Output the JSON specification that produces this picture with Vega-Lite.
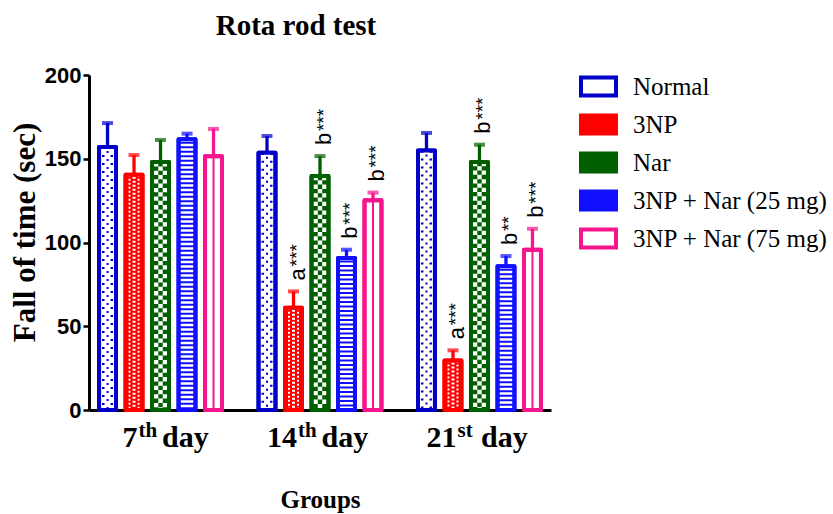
{
"$schema":"https://vega.github.io/schema/vega-lite/v6.json",
"width":462,"height":335,
"autosize":{"type":"none"},
"padding":{"left":89,"top":75,"right":282,"bottom":104},
"background":"white",
"title":{"text":"Rota rod test","font":"Liberation Serif","fontSize":29,"fontWeight":"bold","color":"black","anchor":"middle","dx":-24,"offset":23},
"config":{"view":{"stroke":null},
 "legend":{"orient":"none","legendX":490,"legendY":-8,"symbolType":"M-1,-0.514H1V0.514H-1Z","symbolSize":1225,"symbolStrokeWidth":4,"labelFont":"Liberation Serif","labelFontSize":25,"labelColor":"black","labelOffset":15,"rowPadding":1,"padding":0,"labelLimit":400}},
"datasets":{
 "bars":[
  {"day":"7th day","group":"Normal","value":157,"err":171.3,"letter":"","stars":""},
  {"day":"7th day","group":"3NP","value":140.5,"err":152.2,"letter":"","stars":""},
  {"day":"7th day","group":"Nar","value":148,"err":161.2,"letter":"","stars":""},
  {"day":"7th day","group":"3NP + Nar (25 mg)","value":161.6,"err":165,"letter":"","stars":""},
  {"day":"7th day","group":"3NP + Nar (75 mg)","value":151.5,"err":167.8,"letter":"","stars":""},
  {"day":"14th day","group":"Normal","value":153.6,"err":163.6,"letter":"","stars":""},
  {"day":"14th day","group":"3NP","value":61,"err":70.8,"letter":"a","stars":"***"},
  {"day":"14th day","group":"Nar","value":139.7,"err":151.6,"letter":"b","stars":"***"},
  {"day":"14th day","group":"3NP + Nar (25 mg)","value":90.7,"err":95.7,"letter":"b","stars":"***"},
  {"day":"14th day","group":"3NP + Nar (75 mg)","value":125.2,"err":129.8,"letter":"b","stars":"***"},
  {"day":"21st day","group":"Normal","value":155,"err":165.4,"letter":"","stars":""},
  {"day":"21st day","group":"3NP","value":29.6,"err":35.6,"letter":"a","stars":"***"},
  {"day":"21st day","group":"Nar","value":148.1,"err":158.4,"letter":"b","stars":"***"},
  {"day":"21st day","group":"3NP + Nar (25 mg)","value":85.8,"err":91.9,"letter":"b","stars":"**"},
  {"day":"21st day","group":"3NP + Nar (75 mg)","value":95.7,"err":108.2,"letter":"b","stars":"***"}
 ],
 "days":[
  {"day":"7th day","num":"7","sup":"th"},
  {"day":"14th day","num":"14","sup":"th"},
  {"day":"21st day","num":"21","sup":"st"}
 ]
},
"layer":[
 {"data":{"name":"bars"},"mark":{"type":"bar","strokeWidth":4,"strokeJoin":"round"},
  "encoding":{
   "x":{"field":"day","type":"nominal","scale":{"domain":["7th day","14th day","21st day"],"paddingInner":0.229,"paddingOuter":0.063},
        "axis":{"title":"Groups","labels":false,"ticks":false,"domainWidth":3,"domainColor":"black","titleFont":"Liberation Serif","titleFontSize":25,"titleFontWeight":"bold","titleColor":"black","titleY":97,"titleBaseline":"alphabetic"}},
   "xOffset":{"field":"group","type":"nominal","scale":{"domain":["Normal","3NP","Nar","3NP + Nar (25 mg)","3NP + Nar (75 mg)"],"paddingInner":0.36,"paddingOuter":0}},
   "y":{"field":"value","type":"quantitative","scale":{"domain":[0,200],"nice":false},
        "axis":{"title":"Fall of time (sec)","values":[0,50,100,150,200],"grid":false,"domainWidth":3,"domainColor":"black","tickColor":"black","tickWidth":2.5,"tickSize":6,"labelFont":"Liberation Sans","labelFontSize":22,"labelFontWeight":"bold","labelColor":"black","labelPadding":2,"titleFont":"Liberation Serif","titleFontSize":31,"titleFontWeight":"bold","titleColor":"black","titleAngle":270,"titleX":-55,"titleY":157,"titleAlign":"center","titleBaseline":"alphabetic"}},
   "fill":{"field":"group","type":"nominal","scale":{"domain":["Normal","3NP","Nar","3NP + Nar (25 mg)","3NP + Nar (75 mg)"],"range":["#ffffff","#ff0000","#006000","#1010ff","#ffffff"]},"legend":{"title":null}},
   "stroke":{"field":"group","type":"nominal","scale":{"domain":["Normal","3NP","Nar","3NP + Nar (25 mg)","3NP + Nar (75 mg)"],"range":["#0000c8","#ff0000","#006000","#1010ff","#f5158c"]},"legend":{"title":null}}
  }},
 {"data":{"name":"bars"},"transform":[{"filter":"datum.group === 'Normal'"}],"mark":{"type":"rule","stroke":"#0000c8","strokeWidth":11,"strokeDash":[2,6]},
  "encoding":{"x":{"field":"day","type":"nominal"},"xOffset":{"field":"group","type":"nominal"},"y":{"field":"value","type":"quantitative"},"y2":{"datum":0}}},
 {"data":{"name":"bars"},"transform":[{"filter":"datum.group === 'Normal'"}],"mark":{"type":"rule","stroke":"#ffffff","strokeWidth":6},
  "encoding":{"x":{"field":"day","type":"nominal"},"xOffset":{"field":"group","type":"nominal"},"y":{"field":"value","type":"quantitative"},"y2":{"datum":0}}},
 {"data":{"name":"bars"},"transform":[{"filter":"datum.group === 'Normal'"}],"mark":{"type":"rule","stroke":"#0000c8","strokeWidth":2,"strokeDash":[2,6],"strokeDashOffset":4},
  "encoding":{"x":{"field":"day","type":"nominal"},"xOffset":{"field":"group","type":"nominal"},"y":{"field":"value","type":"quantitative"},"y2":{"datum":0}}},
 {"data":{"name":"bars"},"transform":[{"filter":"datum.group === '3NP'"}],"mark":{"type":"rule","stroke":"#ffffff","strokeWidth":11,"strokeDash":[2,2]},
  "encoding":{"x":{"field":"day","type":"nominal"},"xOffset":{"field":"group","type":"nominal"},"y":{"field":"value","type":"quantitative"},"y2":{"datum":0}}},
 {"data":{"name":"bars"},"transform":[{"filter":"datum.group === '3NP'"}],"mark":{"type":"rule","stroke":"#ff0000","strokeWidth":7},
  "encoding":{"x":{"field":"day","type":"nominal"},"xOffset":{"field":"group","type":"nominal"},"y":{"field":"value","type":"quantitative"},"y2":{"datum":0}}},
 {"data":{"name":"bars"},"transform":[{"filter":"datum.group === '3NP'"}],"mark":{"type":"rule","stroke":"#ffffff","strokeWidth":3,"strokeDash":[2,2],"strokeDashOffset":2},
  "encoding":{"x":{"field":"day","type":"nominal"},"xOffset":{"field":"group","type":"nominal"},"y":{"field":"value","type":"quantitative"},"y2":{"datum":0}}},
 {"data":{"name":"bars"},"transform":[{"filter":"datum.group === 'Nar'"}],"mark":{"type":"rule","stroke":"#ffffff","strokeWidth":13,"strokeDash":[4.3,4.3]},
  "encoding":{"x":{"field":"day","type":"nominal"},"xOffset":{"field":"group","type":"nominal"},"y":{"field":"value","type":"quantitative"},"y2":{"datum":0}}},
 {"data":{"name":"bars"},"transform":[{"filter":"datum.group === 'Nar'"}],"mark":{"type":"rule","stroke":"#ffffff","strokeWidth":4.4},
  "encoding":{"x":{"field":"day","type":"nominal"},"xOffset":{"field":"group","type":"nominal"},"y":{"field":"value","type":"quantitative"},"y2":{"datum":0}}},
 {"data":{"name":"bars"},"transform":[{"filter":"datum.group === 'Nar'"}],"mark":{"type":"rule","stroke":"#006000","strokeWidth":4.4,"strokeDash":[4.3,4.3]},
  "encoding":{"x":{"field":"day","type":"nominal"},"xOffset":{"field":"group","type":"nominal"},"y":{"field":"value","type":"quantitative"},"y2":{"datum":0}}},
 {"data":{"name":"bars"},"transform":[{"filter":"datum.group === '3NP + Nar (25 mg)'"}],"mark":{"type":"rule","stroke":"#ffffff","strokeWidth":13,"strokeDash":[2.5,2]},
  "encoding":{"x":{"field":"day","type":"nominal"},"xOffset":{"field":"group","type":"nominal"},"y":{"field":"value","type":"quantitative"},"y2":{"datum":0}}},
 {"data":{"name":"bars"},"transform":[{"filter":"datum.group === '3NP + Nar (75 mg)'"}],"mark":{"type":"rule","stroke":"#f5158c","strokeWidth":2},
  "encoding":{"x":{"field":"day","type":"nominal"},"xOffset":{"field":"group","type":"nominal"},"y":{"field":"value","type":"quantitative"},"y2":{"datum":0}}},
 {"data":{"name":"bars"},"mark":{"type":"rule","strokeWidth":3.3},
  "encoding":{"x":{"field":"day","type":"nominal"},"xOffset":{"field":"group","type":"nominal"},"y":{"field":"value","type":"quantitative"},"y2":{"field":"err"},
   "color":{"field":"group","type":"nominal","scale":{"domain":["Normal","3NP","Nar","3NP + Nar (25 mg)","3NP + Nar (75 mg)"],"range":["#0000c8","#ff0000","#006000","#1010ff","#f5158c"]},"legend":null}}},
 {"data":{"name":"bars"},"mark":{"type":"bar","filled":false,"strokeWidth":4,"strokeJoin":"round"},
  "encoding":{"x":{"field":"day","type":"nominal"},"xOffset":{"field":"group","type":"nominal"},"y":{"field":"value","type":"quantitative"},
   "color":{"field":"group","type":"nominal","legend":null}}},
 {"data":{"name":"bars"},"mark":{"type":"tick","size":11,"thickness":4,"orient":"horizontal"},
  "encoding":{"x":{"field":"day","type":"nominal"},"xOffset":{"field":"group","type":"nominal"},"y":{"field":"err","type":"quantitative"},
   "color":{"field":"group","type":"nominal","legend":null}}},
 {"data":{"name":"bars"},"transform":[{"filter":"datum.letter !== ''"}],"mark":{"type":"text","angle":270,"align":"left","baseline":"alphabetic","dx":11,"dy":11,"font":"Liberation Sans","fontSize":22,"color":"black"},
  "encoding":{"x":{"field":"day","type":"nominal"},"xOffset":{"field":"group","type":"nominal"},"y":{"field":"err","type":"quantitative"},"text":{"field":"letter"}}},
 {"data":{"name":"bars"},"transform":[{"filter":"datum.letter !== ''"}],"mark":{"type":"text","angle":270,"align":"left","baseline":"alphabetic","dx":25,"dy":9.5,"font":"Liberation Sans","fontSize":19,"color":"black"},
  "encoding":{"x":{"field":"day","type":"nominal"},"xOffset":{"field":"group","type":"nominal"},"y":{"field":"err","type":"quantitative"},"text":{"field":"stars"}}},
 {"data":{"name":"days"},"mark":{"type":"text","align":"right","baseline":"alphabetic","dx":-23,"dy":37,"font":"Liberation Serif","fontSize":30,"fontWeight":"bold","color":"black"},
  "encoding":{"x":{"field":"day","type":"nominal"},"y":{"datum":0,"type":"quantitative"},"text":{"field":"num"}}},
 {"data":{"name":"days"},"mark":{"type":"text","align":"left","baseline":"alphabetic","dx":-22,"dy":27,"font":"Liberation Serif","fontSize":21,"fontWeight":"bold","color":"black"},
  "encoding":{"x":{"field":"day","type":"nominal"},"y":{"datum":0,"type":"quantitative"},"text":{"field":"sup"}}},
 {"data":{"name":"days"},"mark":{"type":"text","align":"left","baseline":"alphabetic","dx":1.5,"dy":37,"font":"Liberation Serif","fontSize":30,"fontWeight":"bold","color":"black"},
  "encoding":{"x":{"field":"day","type":"nominal"},"y":{"datum":0,"type":"quantitative"},"text":{"value":"day"}}}
]
}
